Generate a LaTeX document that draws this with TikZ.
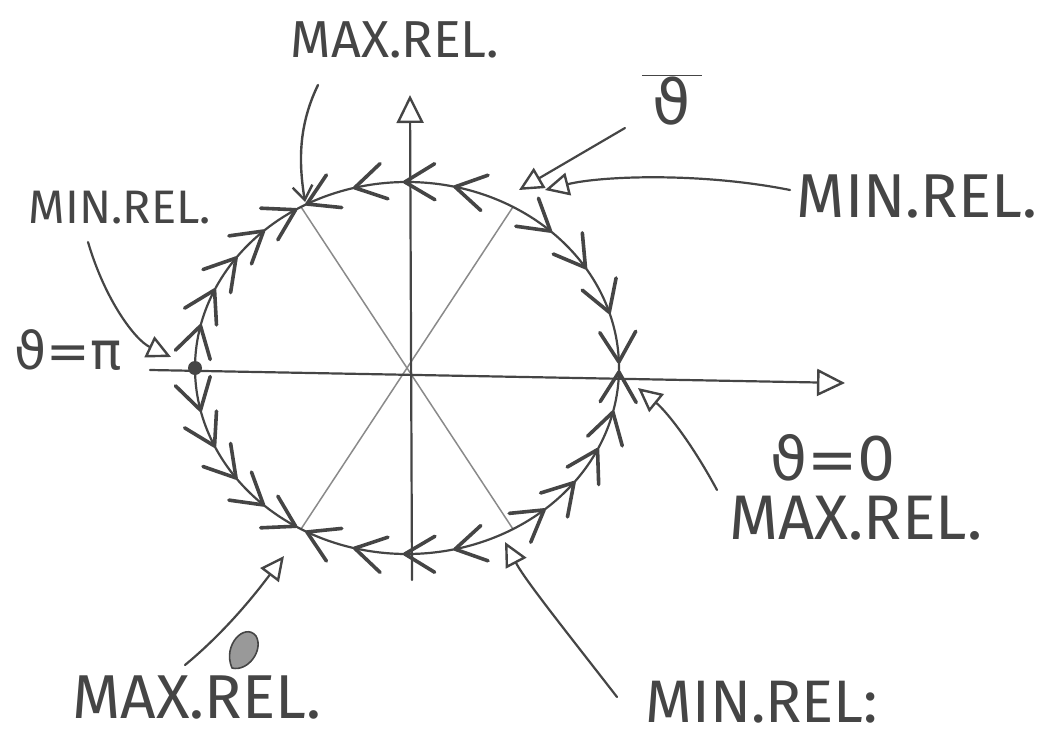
\documentclass[tikz,border=0pt]{standalone}
\usepackage{fontspec}
\setmainfont{Fira Sans}
\newfontfamily\symf{DejaVu Sans}
\usetikzlibrary{arrows.meta,decorations.markings}
\definecolor{ink}{HTML}{454545}
\definecolor{thinc}{HTML}{8A8A8A}
\begin{document}
\begin{tikzpicture}[x=1pt,y=-1pt,
  pen/.style={draw=ink, line width=2.2pt, line cap=round, line join=round},
  spoke/.style={draw=thinc, line width=1.5pt},
  chev/.style={draw=ink, line width=3.6pt, line cap=round, line join=round},
  flowarc/.style={pen, postaction={decorate}, decoration={markings,
     mark=between positions #1 with {\draw[chev] (-30pt,-18pt) -- (0pt,0pt) -- (-30pt,18pt);}}},
  ptr/.style={pen, line width=2.2pt, -{Triangle[open,length=24pt,width=23pt,line width=2.4pt]}},
  ptrv/.style={pen, line width=2.4pt, -{Straight Barb[length=14pt,width=20pt]}},
  axisline/.style={pen, line width=2.2pt, -{Triangle[open,length=28pt,width=27pt,line width=2.4pt]}},
  lbl/.style={text=ink, inner sep=0pt, font=\fontsize{#1}{#1}\selectfont},
  sym/.style={text=ink, inner sep=0pt, font=\symf\fontsize{#1}{#1}\selectfont}
]
\useasboundingbox (0,0) rectangle (1049,741);
% circle geometry (screen pixels): centre (407,368), rx 212, ry 186
\def\cx{407}\def\cy{368}\def\rx{212}\def\ry{186}
\coordinate (p0)   at ({\cx+\rx*cos(0)},{\cy-\ry*sin(0)});
\coordinate (p60)  at ({\cx+\rx*cos(60)},{\cy-\ry*sin(60)});
\coordinate (p120) at ({\cx+\rx*cos(120)},{\cy-\ry*sin(120)});
\coordinate (p180) at ({\cx+\rx*cos(180)},{\cy-\ry*sin(180)});
\coordinate (p240) at ({\cx+\rx*cos(240)},{\cy-\ry*sin(240)});
\coordinate (p300) at ({\cx+\rx*cos(300)},{\cy-\ry*sin(300)});
% spokes
\draw[spoke] (p120) -- (p300);
\draw[spoke] (p60) -- (p240);
% axes
\coordinate (hx0) at (150,370);
\coordinate (hx1) at (845,383);
\coordinate (vy0) at (412,580);
\coordinate (vy1) at (410,95);
\draw[axisline] (hx0) -- (hx1);
\draw[axisline] (vy0) -- (vy1);
% flow arcs
\draw[flowarc=0.28 and 0.97 step 0.23] (p60) arc[start angle=-60, end angle=-120, x radius=\rx, y radius=\ry];
\draw[flowarc=0.22 and 0.98 step 0.25] (p60) arc[start angle=-60, end angle=0, x radius=\rx, y radius=\ry];
\draw[flowarc=0.21 and 0.98 step 0.19] (p180) arc[start angle=-180, end angle=-120, x radius=\rx, y radius=\ry];
\draw[flowarc=0.21 and 0.98 step 0.19] (p180) arc[start angle=-180, end angle=-240, x radius=\rx, y radius=\ry];
\draw[flowarc=0.28 and 0.97 step 0.23] (p300) arc[start angle=-300, end angle=-240, x radius=\rx, y radius=\ry];
\draw[flowarc=0.18 and 0.98 step 0.2] (p300) arc[start angle=-300, end angle=-360, x radius=\rx, y radius=\ry];
% dot at pi
\fill[ink] (p180) circle[radius=7];
% labels
\node[lbl=52] (maxT) at (395,40) {MAX.REL.};
\node[sym=62] (thb) at (672,100) {$\overline{\hbox{\symf\,ϑ\,}}$};
\node[lbl=62] (minR) at (917,197) {MIN.REL.};
\node[lbl=47] (minL) at (120,208) {MIN.REL.};
\node[sym=52] (tpi) at (68,350) {ϑ=π};
\node[sym=60] (tz) at (833,458) {ϑ=0};
\node[lbl=63] (maxR) at (856,518) {MAX.REL.};
\node[lbl=62] (maxB) at (197,698) {MAX.REL.};
\node[lbl=60] (minB) at (762,702) {MIN.REL:};
% pointer tails and tips
\coordinate (a1) at (318,85);   \coordinate (b1) at (305,202);
\coordinate (a2) at (625,128);  \coordinate (b2) at (519,190);
\coordinate (a3) at (790,190);  \coordinate (b3) at (545,190);
\coordinate (a4) at (88,242);   \coordinate (b4) at (171,357);
\coordinate (a5) at (717,490);  \coordinate (b5) at (638,388);
\coordinate (a6) at (185,665);  \coordinate (b6) at (284,556);
\coordinate (a7) at (617,697);  \coordinate (b7) at (505,542);
\draw[ptrv] (a1) .. controls (296,130) and (300,170) .. (b1);
\draw[ptr] (a2) -- (b2);
\draw[ptr] (a3) .. controls (700,172) and (600,176) .. (b3);
\draw[ptr] (a4) .. controls (105,300) and (135,340) .. (b4);
\draw[ptr] (a5) .. controls (690,440) and (665,410) .. (b5);
\draw[ptr] (a6) .. controls (230,628) and (262,585) .. (b6);
\draw[ptr] (a7) .. controls (565,630) and (525,580) .. (b7);
% scribble
\draw[pen, line width=1.6pt, fill=ink!55] (232,668) .. controls (222,645) and (245,622) .. (256,636) .. controls (264,650) and (248,672) .. (232,668) -- cycle;
\end{tikzpicture}
\end{document}
